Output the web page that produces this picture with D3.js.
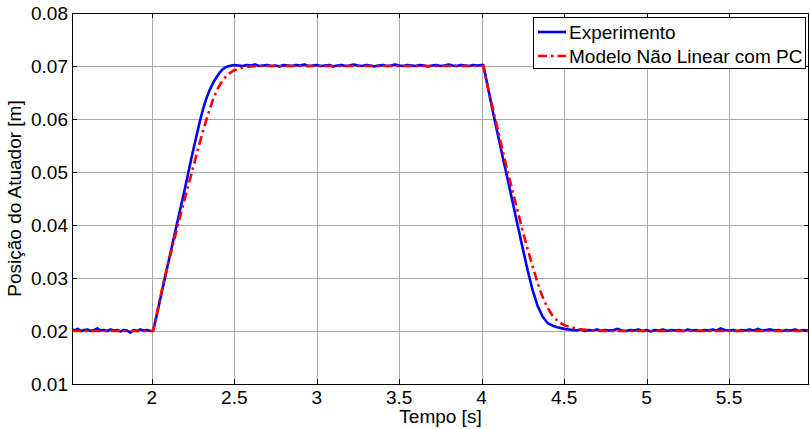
<!DOCTYPE html>
<html>
<head>
<meta charset="utf-8">
<script src="https://cdn.jsdelivr.net/npm/d3@7"></script>
<style>
  html, body { margin: 0; padding: 0; background: #fff; }
  svg { display: block; }
  text { font-family: "Liberation Sans", Arial, sans-serif; fill: #000; }
</style>
</head>
<body>
<svg id="chart" width="810" height="429"></svg>
<script>
// ---------------- DATA ----------------
const xTicks = [2, 2.5, 3, 3.5, 4, 4.5, 5, 5.5];
const xTickLabels = ["2", "2.5", "3", "3.5", "4", "4.5", "5", "5.5"];
const yTicks = [0.01, 0.02, 0.03, 0.04, 0.05, 0.06, 0.07, 0.08];
const yTickLabels = ["0.01", "0.02", "0.03", "0.04", "0.05", "0.06", "0.07", "0.08"];
const seriesNames = ["Experimento", "Modelo Não Linear com PC"];
const xLabel = "Tempo [s]";
const yLabel = "Posição do Atuador [m]";

const expTime = [
  1.516, 1.53, 1.55, 1.57, 1.59, 1.61, 1.63, 1.65, 1.67, 1.69, 1.71, 1.73, 1.75, 1.77, 1.79, 1.81, 1.83, 1.85, 1.87, 1.89, 1.91, 1.93, 1.95, 1.97, 1.99, 2.008,
  2.03, 2.06, 2.09, 2.12, 2.15, 2.18, 2.21, 2.24, 2.27, 2.29, 2.31, 2.33, 2.35, 2.37, 2.39, 2.41, 2.43, 2.45, 2.47, 2.50,
  2.525, 2.55, 2.575, 2.60, 2.625, 2.65, 2.675, 2.70, 2.725, 2.75, 2.775, 2.80, 2.825, 2.85, 2.875, 2.90, 2.925, 2.95, 2.975, 3.00,
  3.025, 3.05, 3.075, 3.10, 3.125, 3.15, 3.175, 3.20, 3.225, 3.25, 3.275, 3.30, 3.325, 3.35, 3.375, 3.40, 3.425, 3.45, 3.475, 3.50,
  3.525, 3.55, 3.575, 3.60, 3.625, 3.65, 3.675, 3.70, 3.725, 3.75, 3.775, 3.80, 3.825, 3.85, 3.875, 3.90, 3.925, 3.95, 3.975, 4.00,
  4.01, 4.04, 4.07, 4.10, 4.13, 4.16, 4.19, 4.22, 4.25, 4.28, 4.31, 4.34, 4.37, 4.40, 4.43, 4.46, 4.50, 4.55,
  4.575, 4.60, 4.625, 4.65, 4.675, 4.70, 4.725, 4.75, 4.775, 4.80, 4.825, 4.85, 4.875, 4.90, 4.925, 4.95, 4.975, 5.00,
  5.025, 5.05, 5.075, 5.10, 5.125, 5.15, 5.175, 5.20, 5.225, 5.25, 5.275, 5.30, 5.325, 5.35, 5.375, 5.40, 5.425, 5.45, 5.475, 5.50,
  5.525, 5.55, 5.575, 5.60, 5.625, 5.65, 5.675, 5.70, 5.725, 5.75, 5.775, 5.80, 5.825, 5.85, 5.875, 5.90, 5.925, 5.95, 5.985
];
const expPos = [
  0.0203, 0.0201, 0.0204, 0.0200, 0.0202, 0.0203, 0.0200, 0.0202, 0.0205, 0.0201, 0.0202, 0.0200, 0.0203, 0.0201, 0.0202, 0.0199, 0.0202, 0.0201, 0.0197, 0.0202, 0.0200, 0.0203, 0.0201, 0.0202, 0.0200, 0.0201,
  0.0230, 0.0273, 0.0315, 0.0357, 0.0399, 0.0440, 0.0482, 0.0526, 0.0567, 0.0594, 0.0618, 0.0638, 0.0654, 0.0667, 0.0678, 0.0687, 0.0694, 0.0698, 0.0700, 0.0702,
  0.0701, 0.0700, 0.0702, 0.0701, 0.0703, 0.0700, 0.0701, 0.0702, 0.0700, 0.0701, 0.0699, 0.0702, 0.0701, 0.0700, 0.0702, 0.0701, 0.0703, 0.0700, 0.0701, 0.0702,
  0.0700, 0.0701, 0.0702, 0.0699, 0.0701, 0.0702, 0.0700, 0.0701, 0.0703, 0.0701, 0.0700, 0.0702, 0.0701, 0.0699, 0.0701, 0.0702, 0.0700, 0.0701, 0.0703, 0.0701,
  0.0700, 0.0702, 0.0701, 0.0700, 0.0702, 0.0701, 0.0699, 0.0701, 0.0702, 0.0700, 0.0701, 0.0703, 0.0701, 0.0700, 0.0702, 0.0701, 0.0700, 0.0702, 0.0701, 0.0702,
  0.0702, 0.0657, 0.0611, 0.0568, 0.0525, 0.0483, 0.0440, 0.0397, 0.0355, 0.0313, 0.0276, 0.0247, 0.0227, 0.0215, 0.0210, 0.0207, 0.0204, 0.0202,
  0.0201, 0.0203, 0.0200, 0.0202, 0.0201, 0.0203, 0.0200, 0.0202, 0.0201, 0.0202, 0.0204, 0.0201, 0.0200, 0.0202, 0.0201, 0.0203, 0.0200, 0.0202,
  0.0199, 0.0202, 0.0201, 0.0203, 0.0200, 0.0202, 0.0201, 0.0202, 0.0200, 0.0203, 0.0201, 0.0202, 0.0200, 0.0202, 0.0201, 0.0203, 0.0201, 0.0205, 0.0202, 0.0201,
  0.0202, 0.0200, 0.0202, 0.0201, 0.0203, 0.0201, 0.0204, 0.0201, 0.0202, 0.0203, 0.0201, 0.0202, 0.0200, 0.0202, 0.0201, 0.0203, 0.0200, 0.0202, 0.0201
];

const modelTime = [
  1.516, 2.008, 2.04, 2.07, 2.10, 2.13, 2.16, 2.19, 2.22, 2.25, 2.28, 2.31, 2.34, 2.37, 2.40, 2.43, 2.46, 2.50, 2.55, 2.60, 2.65,
  4.0096, 4.04, 4.07, 4.10, 4.13, 4.16, 4.19, 4.22, 4.25, 4.28, 4.31, 4.34, 4.37, 4.40, 4.43, 4.46, 4.50, 4.55, 4.60, 4.67, 4.75, 5.985
];
const modelPos = [
  0.0200, 0.0200, 0.0247, 0.0290, 0.0328, 0.0365, 0.0402, 0.0438, 0.0473, 0.0508, 0.0543, 0.0577, 0.0608, 0.0636, 0.0658, 0.0673, 0.0684, 0.0692, 0.0697, 0.0699, 0.0700,
  0.0700, 0.0656, 0.0617, 0.0577, 0.0537, 0.0498, 0.0461, 0.0424, 0.0388, 0.0353, 0.0321, 0.0290, 0.0264, 0.0244, 0.0229, 0.0219, 0.0211, 0.0206, 0.0203, 0.0201, 0.0200, 0.0200
];

// ---------------- LAYOUT ----------------
const L = 72, R = 809, T = 13, B = 384;
const svg = d3.select("#chart");
const x = d3.scaleLinear().domain([1.516, 5.985]).range([L, R]);
const y = d3.scaleLinear().domain([0.01, 0.08]).range([B, T]);
const FS = 19;

svg.append("rect").attr("x", 0).attr("y", 0).attr("width", 810).attr("height", 429).attr("fill", "#fff");

// grid
const grid = svg.append("g").attr("stroke", "#a8a8a8").attr("stroke-width", 1);
xTicks.forEach(t => {
  const px = Math.round(x(t)) + 0.5;
  grid.append("line").attr("x1", px).attr("x2", px).attr("y1", T).attr("y2", B);
});
yTicks.filter(t => t > 0.0101 && t < 0.0799).forEach(t => {
  const py = Math.round(y(t)) + 0.5;
  grid.append("line").attr("x1", L).attr("x2", R).attr("y1", py).attr("y2", py);
});

// ticks (inward, mirrored)
const tk = svg.append("g").attr("stroke", "#000").attr("stroke-width", 1);
xTicks.forEach(t => {
  const px = Math.round(x(t)) + 0.5;
  tk.append("line").attr("x1", px).attr("x2", px).attr("y1", B).attr("y2", B - 5);
  tk.append("line").attr("x1", px).attr("x2", px).attr("y1", T).attr("y2", T + 5);
});
yTicks.forEach(t => {
  const py = Math.round(y(t)) + 0.5;
  tk.append("line").attr("x1", L).attr("x2", L + 5).attr("y1", py).attr("y2", py);
  tk.append("line").attr("x1", R).attr("x2", R - 5).attr("y1", py).attr("y2", py);
});

// clip
svg.append("clipPath").attr("id", "clip").append("rect")
  .attr("x", L).attr("y", T).attr("width", R - L).attr("height", B - T);

const line = d3.line().x(d => x(d[0])).y(d => y(d[1]));
const expData = expTime.map((t, i) => [t, expPos[i]]);
const modelData = modelTime.map((t, i) => [t, modelPos[i]]);

const plot = svg.append("g").attr("clip-path", "url(#clip)");
plot.append("path").datum(expData).attr("d", line)
  .attr("fill", "none").attr("stroke", "#0000ff").attr("stroke-width", 2.6)
  .attr("stroke-linejoin", "round");
plot.append("path").datum(modelData).attr("d", line)
  .attr("fill", "none").attr("stroke", "#ff0000").attr("stroke-width", 2.6)
  .attr("stroke-dasharray", "9,4,2.5,4");

// axes box
svg.append("rect").attr("x", L + 0.5).attr("y", T + 0.5).attr("width", R - L - 1).attr("height", B - T)
  .attr("fill", "none").attr("stroke", "#000").attr("stroke-width", 1);

// tick labels
xTicks.forEach((t, i) => {
  svg.append("text").attr("x", x(t)).attr("y", 404)
    .attr("text-anchor", "middle").attr("font-size", FS).text(xTickLabels[i]);
});
yTicks.forEach((t, i) => {
  svg.append("text").attr("x", 68).attr("y", y(t) + 6.8)
    .attr("text-anchor", "end").attr("font-size", FS).text(yTickLabels[i]);
});

// axis labels
svg.append("text").attr("x", (L + R) / 2).attr("y", 422.5)
  .attr("text-anchor", "middle").attr("font-size", FS).text(xLabel);
svg.append("text").attr("transform", `translate(21,${(T + B) / 2}) rotate(-90)`)
  .attr("text-anchor", "middle").attr("font-size", FS).text(yLabel);

// legend
const lg = svg.append("g");
lg.append("rect").attr("x", 533.5).attr("y", 17.5).attr("width", 272).attr("height", 51)
  .attr("fill", "#fff").attr("stroke", "#000").attr("stroke-width", 1);
const rows = [32, 56];
lg.append("line").attr("x1", 538).attr("x2", 566).attr("y1", rows[0]).attr("y2", rows[0])
  .attr("stroke", "#0000ff").attr("stroke-width", 2.6);
lg.append("line").attr("x1", 538).attr("x2", 566).attr("y1", rows[1]).attr("y2", rows[1])
  .attr("stroke", "#ff0000").attr("stroke-width", 2.6).attr("stroke-dasharray", "9,4,2.5,4");
seriesNames.forEach((n, i) => {
  lg.append("text").attr("x", 569).attr("y", rows[i] + 6.8).attr("font-size", FS).text(n);
});
</script>
</body>
</html>
